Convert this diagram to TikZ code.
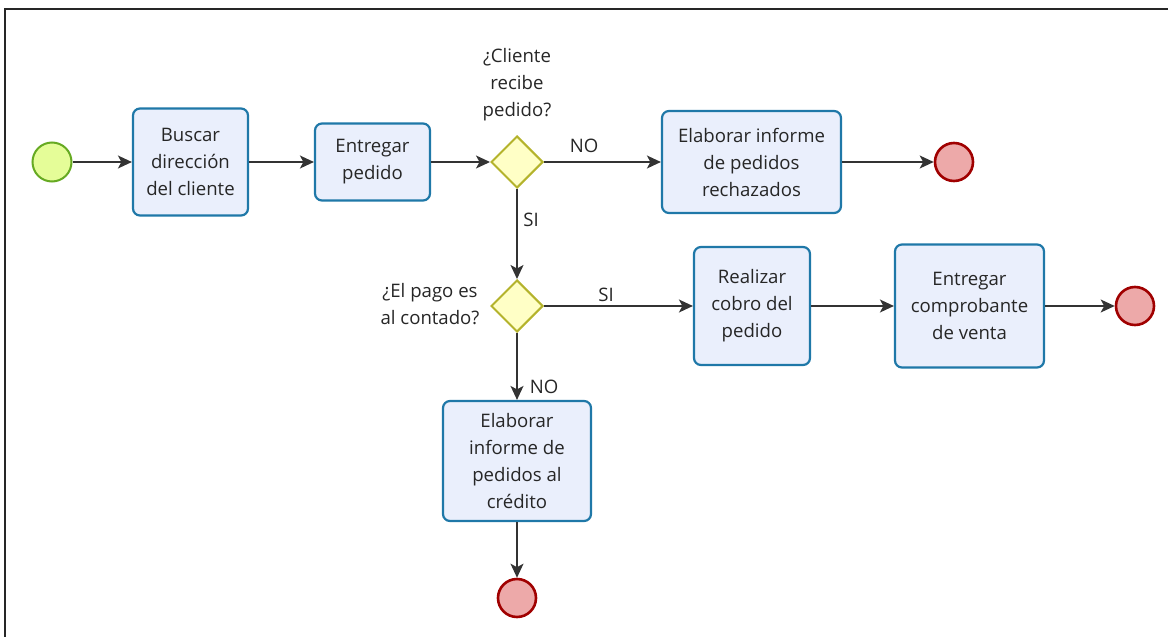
\documentclass[tikz,border=0pt]{standalone}
\usepackage{fontspec}
\setmainfont{Open Sans}
\usetikzlibrary{arrows.meta,shapes.geometric}
\definecolor{taskfill}{HTML}{EAEFFC}
\definecolor{taskdraw}{HTML}{1F78A8}
\definecolor{gatefill}{HTML}{FFFFC6}
\definecolor{gatedraw}{HTML}{B4B32C}
\definecolor{startfill}{HTML}{E5FD98}
\definecolor{startdraw}{HTML}{66AA22}
\definecolor{endfill}{HTML}{EDA9A9}
\definecolor{enddraw}{HTML}{A00000}
\tikzset{
  x=1pt, y=-1pt,
  every node/.style={font=\fontsize{18.6}{27}\selectfont, text=black!85},
  task/.style={draw=taskdraw, fill=taskfill, line width=2.2pt, rounded corners=7pt,
    align=center, inner sep=0pt},
  gate/.style={diamond, draw=gatedraw, fill=gatefill, line width=2pt,
    minimum width=52pt, minimum height=52pt, inner sep=0pt},
  startev/.style={circle, draw=startdraw, fill=startfill, line width=2pt,
    minimum size=39pt, inner sep=0pt},
  endev/.style={circle, draw=enddraw, fill=endfill, line width=2.6pt,
    minimum size=38pt, inner sep=0pt},
  flow/.style={draw=black!80, line width=1.5pt, -{Stealth[length=14pt,width=13pt,inset=3.5pt]}},
  lbl/.style={inner sep=1pt}
}
\begin{document}
\begin{tikzpicture}
\useasboundingbox (0,0) rectangle (1168,637);
% frame
\draw[line width=2pt, black!85] (5,637) -- (5,9) -- (1168,9);

% events
\node[startev] (start) at (52,162) {};
\node[endev] (end1) at (954,162) {};
\node[endev] (end2) at (1135,306) {};
\node[endev] (end3) at (517,598) {};

% tasks
\node[task, minimum width=115pt, minimum height=107pt] (t1) at (190.5,162) {Buscar\\dirección\\del cliente};
\node[task, minimum width=115pt, minimum height=77pt] (t2) at (372.5,162) {Entregar\\pedido};
\node[task, minimum width=179pt, minimum height=102pt] (t3) at (751.5,162) {Elaborar informe\\de pedidos\\rechazados};
\node[task, minimum width=116pt, minimum height=118pt] (t4) at (752,306) {Realizar\\cobro del\\pedido};
\node[task, minimum width=149pt, minimum height=123pt] (t5) at (969.5,306) {Entregar\\comprobante\\de venta};
\node[task, minimum width=148pt, minimum height=120pt] (t6) at (517,461) {Elaborar\\informe de\\pedidos al\\crédito};

% gateways
\node[gate] (g1) at (517,162) {};
\node[gate] (g2) at (517,306) {};
\node[align=center] (q1) at (517,85) {¿Cliente\\recibe\\pedido?};
\node[align=center] (q2) at (430,304.5) {¿El pago es\\al contado?};

% sequence flows
\draw[flow] (start) -- (t1);
\draw[flow] (t1) -- (t2);
\draw[flow] (t2) -- (g1);
\draw[flow] (g1) -- (t3);
\node[lbl] (l1) at (584,146) {NO};
\draw[flow] (t3) -- (end1);
\draw[flow] (g1) -- (g2);
\node[lbl] (l2) at (531,220) {SI};
\draw[flow] (g2) -- (t4);
\node[lbl] (l3) at (606,295) {SI};
\draw[flow] (t4) -- (t5);
\draw[flow] (t5) -- (end2);
\draw[flow] (g2) -- (t6);
\node[lbl] (l4) at (544,387) {NO};
\draw[flow] (t6) -- (end3);
\end{tikzpicture}
\end{document}
